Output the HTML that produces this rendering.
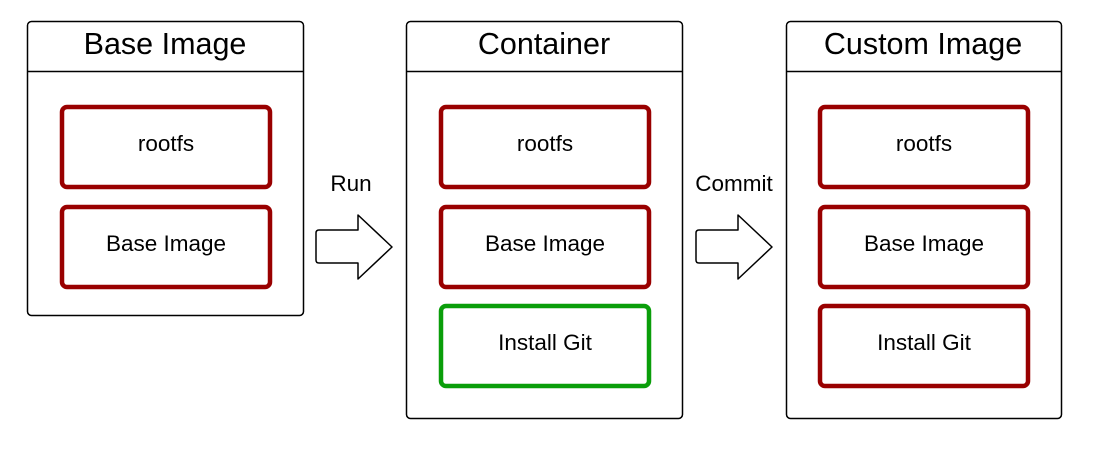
<!DOCTYPE html>
<html><head><style>
body{margin:0;background:#fff;width:1101px;height:452px;overflow:hidden;font-family:"Liberation Sans",sans-serif}
</style></head><body>
<svg width="1101" height="452" xmlns="http://www.w3.org/2000/svg" font-family="Liberation Sans, sans-serif">
<g fill="#fff" stroke="#000" stroke-width="1.5">
<rect x="27.5" y="21.5" width="276" height="294" rx="4"/>
<line x1="27.5" y1="71.5" x2="303.5" y2="71.5"/>
<rect x="406.5" y="21.5" width="276" height="397" rx="4"/>
<line x1="406.5" y1="71.5" x2="682.5" y2="71.5"/>
<rect x="786.5" y="21.5" width="275" height="397" rx="4"/>
<line x1="786.5" y1="71.5" x2="1061.5" y2="71.5"/>
</g>
<g font-size="30.5" text-anchor="middle" fill="#000">
<text x="165" y="54">Base Image</text>
<text x="544" y="54">Container</text>
<text x="923" y="54">Custom Image</text>
</g>
<g fill="#fff" stroke="#990000" stroke-width="4.5">
<rect x="62" y="107" width="208" height="80" rx="5"/>
<rect x="62" y="207" width="208" height="80" rx="5"/>
<rect x="441" y="107" width="208" height="80" rx="5"/>
<rect x="441" y="207" width="208" height="80" rx="5"/>
<rect x="441" y="306" width="208" height="80" rx="5" stroke="#0a9e0a"/>
<rect x="820" y="107" width="208" height="80" rx="5"/>
<rect x="820" y="207" width="208" height="80" rx="5"/>
<rect x="820" y="306" width="208" height="80" rx="5"/>
</g>
<g font-size="22.5" text-anchor="middle" fill="#000">
<text x="166" y="151">rootfs</text>
<text x="166" y="251">Base Image</text>
<text x="545" y="151">rootfs</text>
<text x="545" y="251">Base Image</text>
<text x="545" y="350">Install Git</text>
<text x="924" y="151">rootfs</text>
<text x="924" y="251">Base Image</text>
<text x="924" y="350">Install Git</text>
<text x="351" y="191">Run</text>
<text x="734" y="191">Commit</text>
</g>
<g fill="#fff" stroke="#000" stroke-width="1.5" stroke-linejoin="round">
<path d="M319 230 H358 V215 L392 247 L358 279 V263 H319 Q316 263 316 260 V233 Q316 230 319 230 Z"/>
<path d="M699 230 H738 V215 L772 247 L738 279 V263 H699 Q696 263 696 260 V233 Q696 230 699 230 Z"/>
</g>
</svg>
</body></html>
